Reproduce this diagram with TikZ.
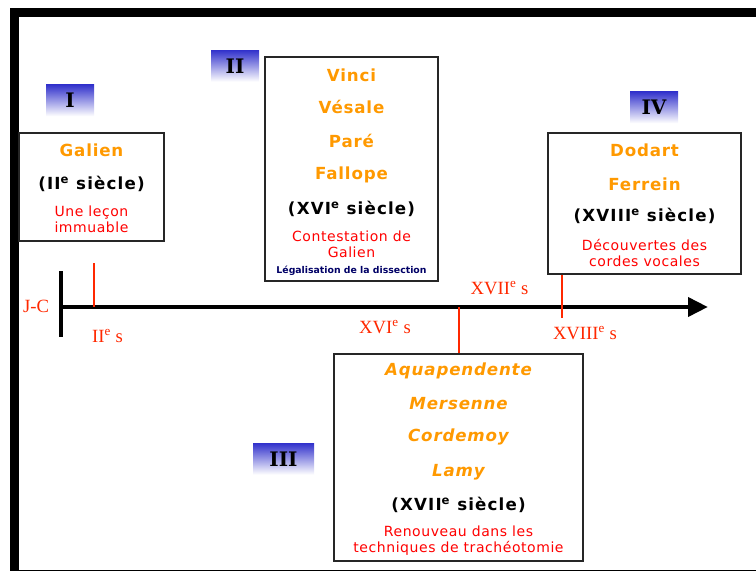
\documentclass[tikz,border=0pt]{standalone}
\usepackage{fontspec}
\setmainfont{DejaVu Sans}
\newfontfamily\namefont[LetterSpace=5]{DejaVu Sans}
\newfontfamily\erafont[LetterSpace=7]{DejaVu Sans}
\newfontfamily\notefont[LetterSpace=4]{DejaVu Sans}
\newfontfamily\datefont{Liberation Serif}
\newfontfamily\slabfont{DejaVu Serif}
\usepackage{tikz}
\usetikzlibrary{arrows.meta, positioning, fit}
\usepackage{xcolor}
\definecolor{nameorange}{RGB}{255,153,0}
\definecolor{notered}{RGB}{255,0,0}
\definecolor{tickred}{RGB}{255,40,0}
\definecolor{tagblue}{RGB}{51,51,204}
\definecolor{lawnavy}{RGB}{0,0,102}
\tikzset{
  panel/.style={draw=black!85, line width=1.3pt, inner sep=0pt},
  person/.style={text=nameorange, font=\fontsize{12.5}{15}\selectfont\namefont\bfseries},
  person it/.style={person, font=\fontsize{12.5}{15}\selectfont\namefont\bfseries\itshape},
  era/.style={font=\fontsize{12.5}{14}\selectfont\erafont\bfseries},
  note/.style={text=notered, font=\fontsize{10.5}{12}\selectfont\notefont, align=center},
  tag/.style={top color=tagblue, middle color=tagblue!45, bottom color=white,
              minimum width=36pt, minimum height=23.5pt, inner sep=0pt,
              font=\fontsize{15}{16}\selectfont\slabfont\bfseries},
  tick/.style={draw=tickred, line width=2.2pt},
  datelbl/.style={text=tickred, font=\fontsize{14}{16}\selectfont\datefont}
}

\begin{document}
\begin{tikzpicture}[x=0.75pt, y=-0.75pt]
  \useasboundingbox (0,0) rectangle (756,571);
  \fill (10,8) rectangle (756,17);
  \fill (10,8) rectangle (19,570);
  \fill (10,569.5) rectangle (756,571);

  \node[tag] (tag-i) at (70,100.5) {I};
  \node[tag] (tag-ii) at (235,66) {II};
  \node[tag, minimum width=45.75pt] (tag-iii) at (283.5,459) {III};
  \node[tag] (tag-iv) at (654,107.5) {IV};

  \node[panel, fit={(19,133) (164,241)}] (galien) {};
  \node[person] (galien-1) at (91.5,150) {Galien};
  \node[era] (galien-era) at (91.5,184) {(II\textsuperscript{e} siècle)};
  \node[note] (galien-note) at (91.5,219) {Une leçon\\immuable};

  \node[panel, fit={(265,57) (438,281)}] (renaissance) {};
  \node[person] (vinci) at (351.5,75) {Vinci};
  \node[person] (vesale) at (351.5,107) {Vésale};
  \node[person] (pare) at (351.5,141) {Paré};
  \node[person] (fallope) at (351.5,175) {Fallope};
  \node[era] (renaissance-era) at (351.5,209) {(XVI\textsuperscript{e} siècle)};
  \node[note] (renaissance-note) at (351.5,244.5) {Contestation de\\Galien};
  \node[text=lawnavy, font=\fontsize{7}{8}\selectfont\bfseries] (dissection) at (351.5,271) {Légalisation de la dissection};

  \node[panel, fit={(334,354) (583,561)}] (classique) {};
  \node[person it] (aquapendente) at (458.5,371) {Aquapendente};
  \node[person it] (mersenne) at (458.5,404) {Mersenne};
  \node[person it] (cordemoy) at (458.5,437) {Cordemoy};
  \node[person it] (lamy) at (458.5,472) {Lamy};
  \node[era] (classique-era) at (458.5,505) {(XVII\textsuperscript{e} siècle)};
  \node[note] (classique-note) at (458.5,541) {Renouveau dans les\\techniques de trachéotomie};

  \node[panel, fit={(548,133) (741,274)}] (lumieres) {};
  \node[person] (dodart) at (644.5,150) {Dodart};
  \node[person] (ferrein) at (644.5,184) {Ferrein};
  \node[era] (lumieres-era) at (644.5,216) {(XVIII\textsuperscript{e} siècle)};
  \node[note] (lumieres-note) at (644.5,252.5) {Découvertes des\\cordes vocales};

  \coordinate (jc) at (61,307);
  \coordinate (axisend) at (708,307);
  \coordinate (ii) at (94,263);
  \coordinate (xvii) at (459,307);
  \coordinate (xviii) at (562,318);
  \draw[line width=3.5pt] (61,271) -- (61,337);
  \draw[line width=3.5pt, -{Triangle[length=15pt, width=14pt]}] (jc) -- (axisend);
  \draw[tick] (ii) -- (ii |- jc);
  \draw[tick] (xvii) -- (xvii |- classique.north);
  \draw[tick] (xviii |- lumieres.south) -- (xviii);

  \node[datelbl] (d-jc) at (36,306) {J-C};
  \node[datelbl] (d-ii) at (107.5,336) {II\textsuperscript{e} s};
  \node[datelbl] (d-xvi) at (385,327) {XVI\textsuperscript{e} s};
  \node[datelbl] (d-xvii) at (499.5,288) {XVII\textsuperscript{e} s};
  \node[datelbl] (d-xviii) at (585,333) {XVIII\textsuperscript{e} s};
\end{tikzpicture}
\end{document}
